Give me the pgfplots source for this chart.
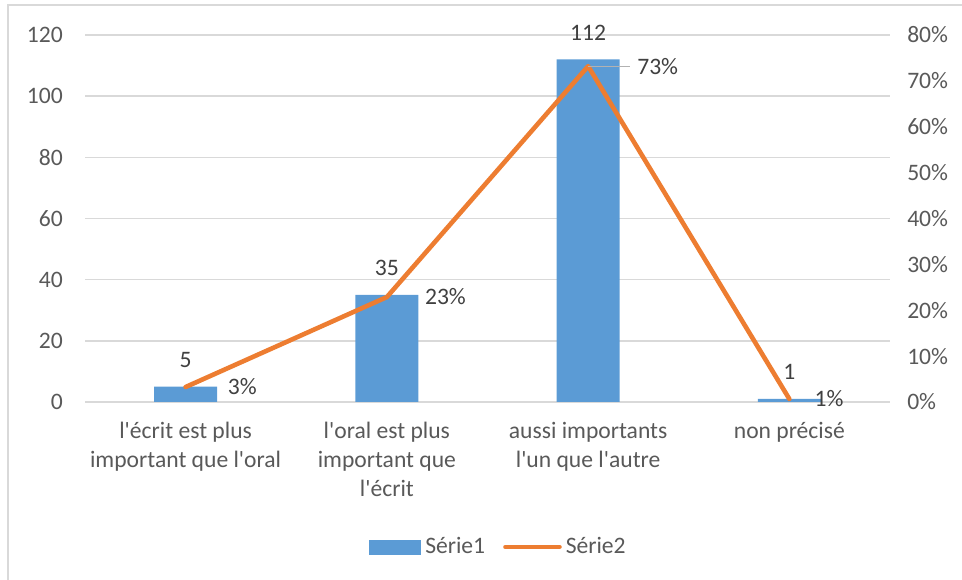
\documentclass[border=0pt]{standalone}
\usepackage{pgfplots}
\pgfplotsset{compat=1.18}
\usepackage{fontspec}
\setmainfont{Carlito}
\definecolor{barblue}{HTML}{5B9BD5}
\definecolor{lineorange}{HTML}{ED7D31}
\definecolor{txt}{HTML}{595959}
\definecolor{lbl}{HTML}{404040}
\definecolor{gridc}{HTML}{D9D9D9}
\newcommand\q{\textquotesingle}
\begin{document}
\fontsize{11.8bp}{14.5bp}\selectfont
\begin{tikzpicture}
\useasboundingbox (-42.5bp,-89bp) rectangle (438.5bp,201bp);
\draw[gridc, line width=0.9bp] (-38.5bp,-89bp) -- (-38.5bp,198.5bp) -- (438.5bp,198.5bp);
\begin{axis}[
    at={(0,0)}, anchor=south west,
    width=402.5bp, height=183.5bp, scale only axis,
    xmin=-0.5, xmax=3.5,
    ymin=0, ymax=120,
    ytick={0,20,...,120},
    xtick={0,1,2,3},
    xticklabels={{l\q écrit est plus\\important que l\q oral},
                 {l\q oral est plus\\important que\\l\q écrit},
                 {aussi importants\\l\q un que l\q autre},
                 {non précisé}},
    xticklabel style={align=center, yshift=-6bp, text=txt},
    yticklabel style={xshift=-7bp, text=txt},
    /pgf/number format/assume math mode=true,
    major tick length=0pt,
    axis x line*=bottom, axis y line*=left,
    y axis line style={draw=none},
    x axis line style={draw=gridc, line width=0.75bp},
    ymajorgrids, grid style={gridc, line width=0.75bp},
    ybar, bar width=31.5bp,
    nodes near coords,
    every node near coord/.append style={text=lbl, anchor=south, yshift=5.5bp},
]
\addplot[fill=barblue, draw=none] coordinates {(0,5) (1,35) (2,112) (3,1)};
\end{axis}
\begin{axis}[
    at={(0,0)}, anchor=south west,
    width=402.5bp, height=183.5bp, scale only axis,
    xmin=-0.5, xmax=3.5,
    ymin=0, ymax=0.8,
    ytick={0,0.1,...,0.8},
    yticklabels={0\%,10\%,20\%,30\%,40\%,50\%,60\%,70\%,80\%},
    yticklabel style={xshift=4.5bp, text=txt},
    major tick length=0pt,
    hide x axis,
    axis y line*=right,
    y axis line style={draw=none},
    legend style={at={(0.515,-0.395)}, anchor=center, draw=none, fill=none,
        legend columns=2, text=txt,
        /tikz/every even column/.append style={column sep=7bp}},
    legend cell align=left,
]
\addlegendimage{barblue, legend image code/.code={\fill[barblue] (0bp,-3.5bp) rectangle (25.5bp,3.5bp);}}
\addlegendentry{Série1}
\addplot[lineorange, line width=2.3bp, line join=round, line cap=round,
    point meta=explicit symbolic,
    visualization depends on={\thisrow{dx}\as\dx},
    nodes near coords,
    every node near coord/.append style={text=lbl, anchor=west, xshift=\dx bp},
    legend image code/.code={\draw[lineorange, line width=2.3bp, line cap=round] (0bp,0bp) -- (27bp,0bp);}]
    table[x=x, y=y, meta=lab] {
x y lab dx
0 0.0327 3\% 16
1 0.2288 23\% 14
2 0.7320 73\% 19.5
3 0.0065 1\% 7.5
};
\addlegendentry{Série2}
\draw[black!30, line width=0.6bp] (axis cs:2,0.732) -- ([xshift=21bp]axis cs:2,0.732);
\end{axis}
\end{tikzpicture}
\end{document}
